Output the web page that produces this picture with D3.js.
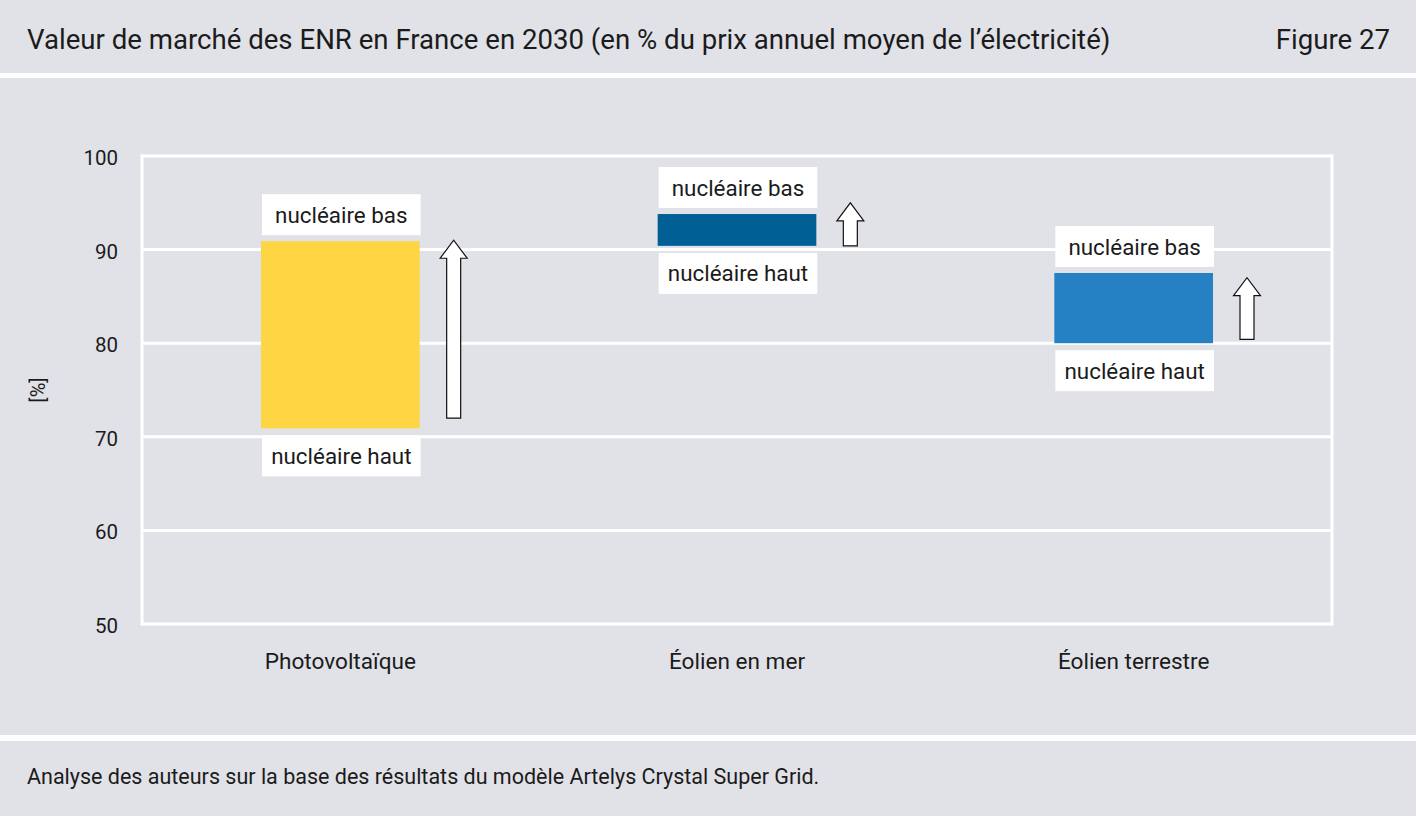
<!DOCTYPE html>
<html>
<head>
<meta charset="utf-8">
<title>Valeur de marché des ENR</title>
<script src="https://d3js.org/d3.v7.min.js"></script>
<style>
  body { margin: 0; background: #fff; }
  svg { display: block; font-family: Roboto, "Noto Sans", sans-serif; }
  text { fill: #1b1b1b; }
</style>
</head>
<body>
<div id="chart"></div>
<script>
// Data
const categories = ["Photovoltaïque", "Éolien en mer", "Éolien terrestre"];
const lowValues = [70.9, 90.4, 80];     // nucléaire haut
const highValues = [90.9, 93.8, 87.5];  // nucléaire bas
const arrowFrom = [72, 90.4, 80.4];
const arrowTo = [91, 95, 87];
const colors = ["#fed643", "#006096", "#2580c4"];
const yTicks = [50, 60, 70, 80, 90, 100];
const labelTop = "nucléaire bas";
const labelBottom = "nucléaire haut";

const W = 1416, H = 816;
const bg = "#e1e2e7";

const svg = d3.select("#chart").append("svg")
  .attr("width", W).attr("height", H);

// panels
svg.append("rect").attr("width", W).attr("height", H).attr("fill", "#fff");
svg.append("rect").attr("x", 0).attr("y", 0).attr("width", W).attr("height", 73).attr("fill", bg);
svg.append("rect").attr("x", 0).attr("y", 78).attr("width", W).attr("height", 657).attr("fill", bg);
svg.append("rect").attr("x", 0).attr("y", 741).attr("width", W).attr("height", 75).attr("fill", bg);

// title
svg.append("text").attr("x", 27).attr("y", 49)
  .attr("font-size", 27.6)
  .text("Valeur de marché des ENR en France en 2030 (en % du prix annuel moyen de l’électricité)");
svg.append("text").attr("x", 1390).attr("y", 49)
  .attr("font-size", 27.6).attr("text-anchor", "end")
  .text("Figure 27");

// footer
svg.append("text").attr("x", 27).attr("y", 784)
  .attr("font-size", 21.5)
  .text("Analyse des auteurs sur la base des résultats du modèle Artelys Crystal Super Grid.");

// scales
const x = d3.scaleBand().domain(categories).range([142, 1332])
  .paddingInner(0.6).paddingOuter(0.3);
const y = d3.scaleLinear().domain([50, 100]).range([624, 156]);

const g = svg.append("g");

// gridlines + frame
g.append("g").selectAll("line").data(yTicks).join("line")
  .attr("x1", 142).attr("x2", 1332)
  .attr("y1", d => y(d)).attr("y2", d => y(d))
  .attr("stroke", "#fff").attr("stroke-width", 3);
g.append("line").attr("x1", 142).attr("x2", 142).attr("y1", y(100) - 1.5).attr("y2", y(50) + 1.5)
  .attr("stroke", "#fff").attr("stroke-width", 3);
g.append("line").attr("x1", 1332).attr("x2", 1332).attr("y1", y(100) - 1.5).attr("y2", y(50) + 1.5)
  .attr("stroke", "#fff").attr("stroke-width", 3);

// y axis
const yAxis = d3.axisLeft(y).tickValues(yTicks).tickSize(0).tickPadding(0);
const ya = g.append("g").attr("transform", "translate(118,2)").call(yAxis);
ya.select(".domain").remove();
ya.selectAll("text").attr("font-size", 20.5).attr("fill", "#1b1b1b")
  .attr("font-family", "Roboto, 'Noto Sans', sans-serif");

svg.append("text")
  .attr("transform", "translate(45,390) rotate(-90)")
  .attr("text-anchor", "middle").attr("font-size", 20)
  .text("[%]");

// x axis labels
const xAxis = d3.axisBottom(x).tickSize(0).tickPadding(0);
const xa = g.append("g").attr("transform", "translate(0,653)").call(xAxis);
xa.select(".domain").remove();
xa.selectAll("text").attr("font-size", 22.6).attr("fill", "#1b1b1b")
  .attr("font-family", "Roboto, 'Noto Sans', sans-serif");

// bars
const idx = d3.range(categories.length);
g.append("g").selectAll("rect").data(idx).join("rect")
  .attr("x", i => x(categories[i]))
  .attr("width", x.bandwidth())
  .attr("y", i => y(highValues[i]))
  .attr("height", i => y(lowValues[i]) - y(highValues[i]))
  .attr("fill", i => colors[i]);

// label boxes
const boxH = 41;
function labelBox(sel, yTop, txt) {
  sel.append("rect")
    .attr("x", i => x(categories[i]) + 1)
    .attr("width", x.bandwidth())
    .attr("y", yTop).attr("height", boxH)
    .attr("fill", "#fff");
  sel.append("text")
    .attr("x", i => x(categories[i]) + 1 + x.bandwidth() / 2)
    .attr("y", i => yTop(i) + boxH / 2 + 8)
    .attr("text-anchor", "middle").attr("font-size", 22.4)
    .text(txt);
}
const lb = g.append("g").selectAll("g").data(idx).join("g");
labelBox(lb, i => y(highValues[i]) - 6 - boxH, labelTop);
labelBox(lb, i => y(lowValues[i]) + 7, labelBottom);

// arrows
const headW = 27, shaftW = 14, headH = 18;
g.append("g").selectAll("path").data(idx).join("path")
  .attr("d", i => {
    const cx = x(categories[i]) + x.bandwidth() + 34;
    const y0 = y(arrowFrom[i]), y1 = y(arrowTo[i]);
    return `M${cx - shaftW / 2},${y0} L${cx - shaftW / 2},${y1 + headH} L${cx - headW / 2},${y1 + headH}
            L${cx},${y1} L${cx + headW / 2},${y1 + headH} L${cx + shaftW / 2},${y1 + headH}
            L${cx + shaftW / 2},${y0} Z`;
  })
  .attr("fill", "#fff").attr("stroke", "#111").attr("stroke-width", 1.2);
</script>
</body>
</html>
